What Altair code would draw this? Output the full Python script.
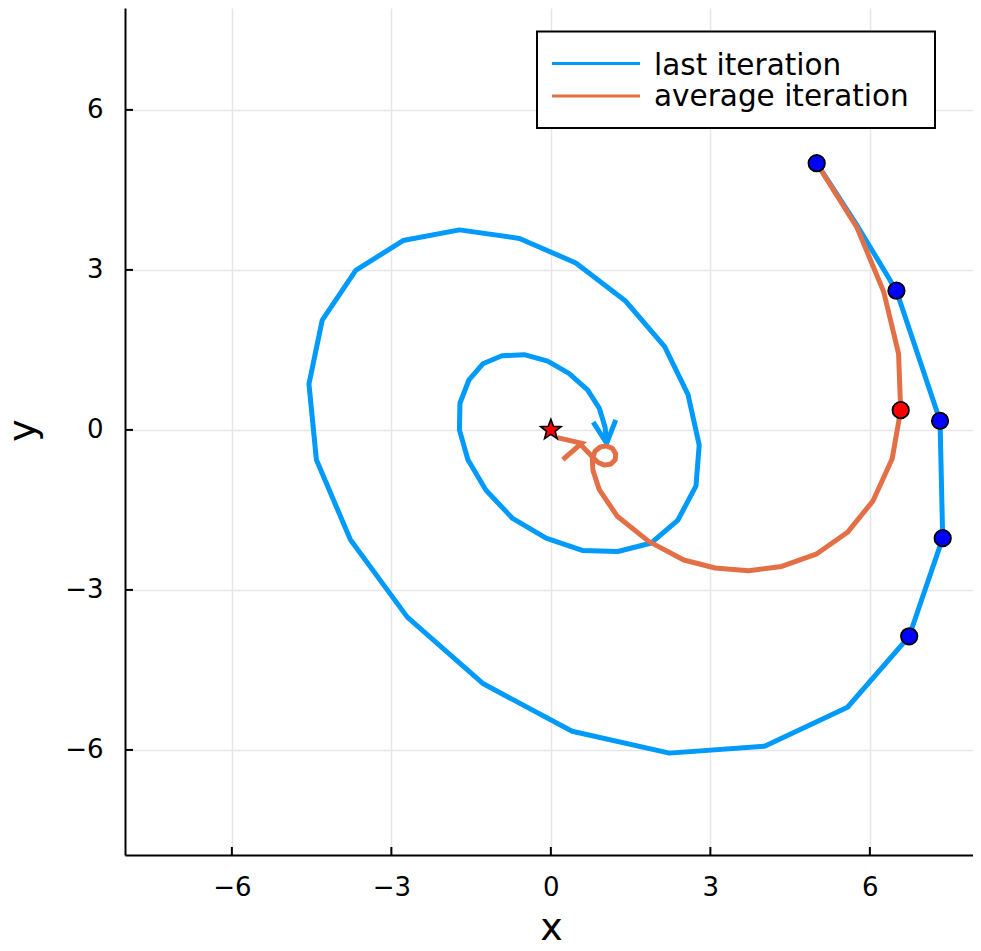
import math
import altair as alt
import pandas as pd

# ---------------- data ----------------
series_names = ["last iteration", "average iteration"]
series_colors = ["#009AFA", "#E36F47"]

last_x = [5.00, 5.78, 6.50, 7.32, 7.37, 6.74, 5.58, 4.02, 2.23, 0.40, -1.27, -2.70,
          -3.77, -4.41, -4.55, -4.30, -3.67, -2.78, -1.72, -0.59, 0.47, 1.41, 2.14, 2.58,
          2.79, 2.73, 2.39, 1.89, 1.26, 0.59, -0.09, -0.72, -1.22, -1.56, -1.72, -1.71,
          -1.54, -1.28, -0.92, -0.50, -0.06, 0.34, 0.69, 0.91, 1.02, 1.05]
last_y = [5.00, 3.80, 2.61, 0.17, -2.03, -3.87, -5.20, -5.93, -6.06, -5.65, -4.76, -3.51,
          -2.06, -0.56, 0.86, 2.06, 2.99, 3.55, 3.75, 3.59, 3.13, 2.41, 1.56, 0.66,
          -0.28, -1.05, -1.69, -2.12, -2.28, -2.26, -2.03, -1.66, -1.13, -0.56, 0.00, 0.50,
          0.94, 1.24, 1.39, 1.41, 1.29, 1.06, 0.75, 0.41, 0.05, -0.25]

avg_x = [5.00, 5.76, 6.26, 6.54, 6.58, 6.42, 6.06, 5.58, 4.99, 4.34, 3.72, 3.09,
         2.50, 1.84, 1.25, 0.91, 0.79, 0.78, 0.83, 0.93, 1.05, 1.16, 1.22, 1.21,
         1.13, 1.01, 0.89, 0.80, 0.72, 0.64, 0.54, 0.58]
avg_y = [5.00, 3.79, 2.59, 1.43, 0.37, -0.54, -1.33, -1.92, -2.33, -2.56, -2.64, -2.59,
         -2.44, -2.09, -1.62, -1.12, -0.75, -0.55, -0.40, -0.32, -0.30, -0.35, -0.45, -0.56,
         -0.64, -0.66, -0.61, -0.53, -0.44, -0.36, -0.26, -0.25]

last_marker_idx = [0, 2, 3, 4, 5]
avg_marker_idx = [4]
optimum_x = [0.0]
optimum_y = [0.0]

tick_values = [-6, -3, 0, 3, 6]

# ---------------- layout ----------------
W, H = 848, 847
X_DOMAIN = [-8.01, 7.94]
Y_DOMAIN = [-7.97, 7.91]
FONT = "DejaVu Sans"

xs = alt.Scale(domain=X_DOMAIN, nice=False, zero=False)
ys = alt.Scale(domain=Y_DOMAIN, nice=False, zero=False)

px_x = W / (X_DOMAIN[1] - X_DOMAIN[0])
px_y = H / (Y_DOMAIN[1] - Y_DOMAIN[0])


def path_frame(name, xv, yv):
    return pd.DataFrame({"series": name, "i": list(range(len(xv))), "x": xv, "y": yv})


def arrow_frame(name, xv, yv, length=25.0, half_angle=27.0):
    # open arrow head at the end of a path, computed in pixel space
    tx, ty = xv[-1], yv[-1]
    dx = (xv[-1] - xv[-2]) * px_x
    dy = (yv[-1] - yv[-2]) * px_y
    n = math.hypot(dx, dy)
    dx, dy = dx / n, dy / n
    pts = []
    for s in (1, -1):
        a = math.radians(half_angle) * s
        rx = dx * math.cos(a) - dy * math.sin(a)
        ry = dx * math.sin(a) + dy * math.cos(a)
        pts.append((tx - length * rx / px_x, ty - length * ry / px_y))
    return pd.DataFrame({
        "series": name,
        "i": [0, 1, 2],
        "x": [pts[0][0], tx, pts[1][0]],
        "y": [pts[0][1], ty, pts[1][1]],
    })


def star_path(n=5, inner=0.42):
    pts = []
    for k in range(2 * n):
        r = 1.0 if k % 2 == 0 else inner
        ang = -math.pi / 2 + k * math.pi / n
        pts.append((r * math.cos(ang), r * math.sin(ang)))
    return "M" + " L".join(f"{x:.4f},{y:.4f}" for x, y in pts) + " Z"


x_axis = alt.Axis(values=tick_values, title="x", grid=True, ticks=False, tickSize=0,
                  labelPadding=40, labelBaseline="alphabetic",
                  titleX=426, titleY=84, titleBaseline="alphabetic", titleAlign="center")
y_axis = alt.Axis(values=tick_values, title="y", grid=True, ticks=False, tickSize=0,
                  labelPadding=22, titleX=-91, titleY=422, titleAngle=270,
                  titleBaseline="alphabetic", titleAlign="center")


def X(field):
    return alt.X(field, scale=xs, axis=x_axis)


def Y(field):
    return alt.Y(field, scale=ys, axis=y_axis)


layers = []

series_data = [(last_x, last_y), (avg_x, avg_y)]
for k, (name, color) in enumerate(zip(series_names, series_colors)):
    xv, yv = series_data[k]
    df = path_frame(name, xv, yv)
    layers.append(
        alt.Chart(df).mark_line(color=color, strokeWidth=5, strokeJoin="round")
        .encode(x=X("x:Q"), y=Y("y:Q"), order="i:Q")
    )
    adf = arrow_frame(name, xv, yv)
    layers.append(
        alt.Chart(adf).mark_line(color=color, strokeWidth=5, strokeJoin="miter")
        .encode(x=X("x:Q"), y=Y("y:Q"), order="i:Q")
    )

# inward tick marks
ticks_df = pd.DataFrame({"x": tick_values, "y": tick_values})
layers.append(
    alt.Chart(ticks_df).mark_rule(color="black", strokeWidth=2)
    .encode(x=X("x:Q"), y=alt.value(H), y2=alt.value(H - 8))
)
layers.append(
    alt.Chart(ticks_df).mark_rule(color="black", strokeWidth=2)
    .encode(y=Y("y:Q"), x=alt.value(0), x2=alt.value(8))
)

# markers
mk = pd.DataFrame({
    "x": [last_x[i] for i in last_marker_idx] + [avg_x[i] for i in avg_marker_idx],
    "y": [last_y[i] for i in last_marker_idx] + [avg_y[i] for i in avg_marker_idx],
    "c": ["#0000FF"] * len(last_marker_idx) + ["#FF0000"] * len(avg_marker_idx),
})
layers.append(
    alt.Chart(mk).mark_point(shape="circle", filled=True, size=270, stroke="black",
                             strokeWidth=1.8, opacity=1)
    .encode(x=X("x:Q"), y=Y("y:Q"), fill=alt.Fill("c:N", scale=None))
)
opt = pd.DataFrame({"x": optimum_x, "y": optimum_y})
layers.append(
    alt.Chart(opt).mark_point(shape=star_path(), filled=True, size=460, fill="#FF0000",
                              stroke="black", strokeWidth=1.6, opacity=1)
    .encode(x=X("x:Q"), y=Y("y:Q"))
)

# legend
one = pd.DataFrame({"a": [0]})
layers.append(
    alt.Chart(one).mark_rect(fill="white", stroke="black", strokeWidth=2)
    .encode(x=alt.value(412), x2=alt.value(810), y=alt.value(23.5), y2=alt.value(120))
)
leg_line_y = [55.5, 88]
leg_text_y = [67, 98]
for k, (name, color) in enumerate(zip(series_names, series_colors)):
    layers.append(
        alt.Chart(one).mark_rule(color=color, strokeWidth=3)
        .encode(x=alt.value(427), x2=alt.value(515), y=alt.value(leg_line_y[k]))
    )
    layers.append(
        alt.Chart(one).mark_text(text=name, align="left", baseline="alphabetic",
                                 font=FONT, fontSize=29.5, color="black")
        .encode(x=alt.value(529), y=alt.value(leg_text_y[k]))
    )

chart = (
    alt.layer(*layers)
    .properties(width=W, height=H, autosize=alt.AutoSizeParams(type="none"),
                padding={"left": 117, "top": 0, "right": 0, "bottom": 86},
                background="white")
    .configure_view(stroke=None)
    .configure_axis(labelFont=FONT, labelFontSize=26, labelColor="black",
                    titleFont=FONT, titleFontSize=38, titleFontWeight="normal",
                    titleColor="black", domainColor="black", domainWidth=2,
                    gridColor="#e6e6e6", gridWidth=1.5)
)

chart.save("out.html", embed_options={"renderer": "svg", "actions": False})
